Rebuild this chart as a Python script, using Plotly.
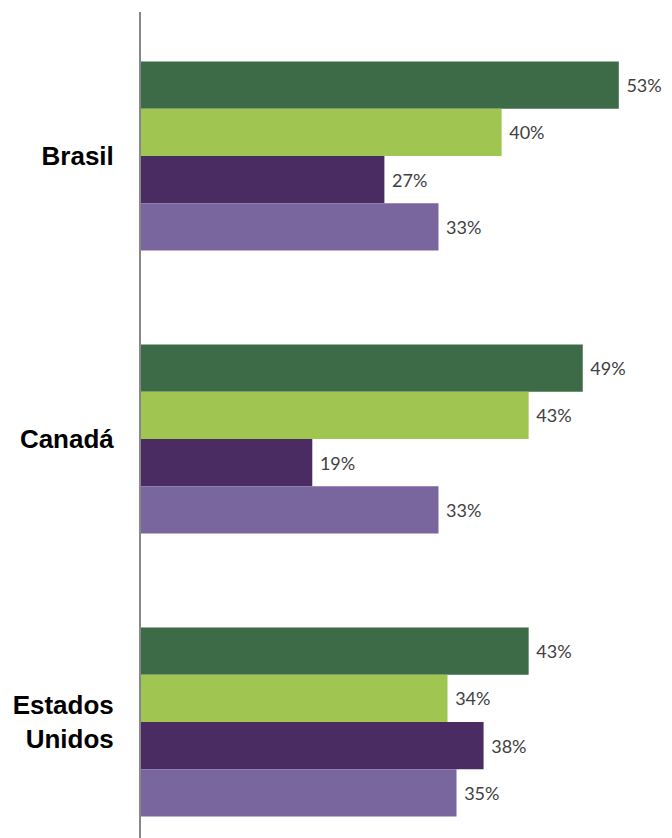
import plotly.graph_objects as go

# countries (top to bottom) and the four series, in percent
countries = ["Brasil", "Canadá", "Estados<br>Unidos"]
series_1 = [53, 49, 43]
series_2 = [40, 43, 34]
series_3 = [27, 19, 38]
series_4 = [33, 33, 35]

colors = ["#3e6b47", "#a0c550", "#4b2c62", "#7a669f"]

fig = go.Figure()
for vals, col in zip([series_1, series_2, series_3, series_4], colors):
    fig.add_trace(go.Bar(
        y=countries, x=vals, orientation="h",
        marker=dict(color=col, line=dict(width=0)),
        text=[f" {v}%" for v in vals], textposition="outside",
        textfont=dict(family="Lato", size=18, color="#404040"),
        cliponaxis=False, showlegend=False,
    ))

# page body has an 8px margin, so the figure is 8px smaller than the window
fig.update_layout(
    width=664, height=830,
    margin=dict(l=133, r=0, t=4, b=0),
    plot_bgcolor="white", paper_bgcolor="white",
    barmode="group", bargap=0.332, bargroupgap=0,
    xaxis=dict(range=[0, 58.9], showgrid=False, zeroline=False,
               showticklabels=False, showline=False),
    yaxis=dict(range=[2.41, -0.509], showgrid=False, zeroline=False,
               showline=True, linecolor="#888888", linewidth=2,
               ticks="", ticklabelstandoff=20,
               tickfont=dict(family="Liberation Sans", size=26, color="black",
                             weight="bold")),
)

fig.write_html("out.html")
